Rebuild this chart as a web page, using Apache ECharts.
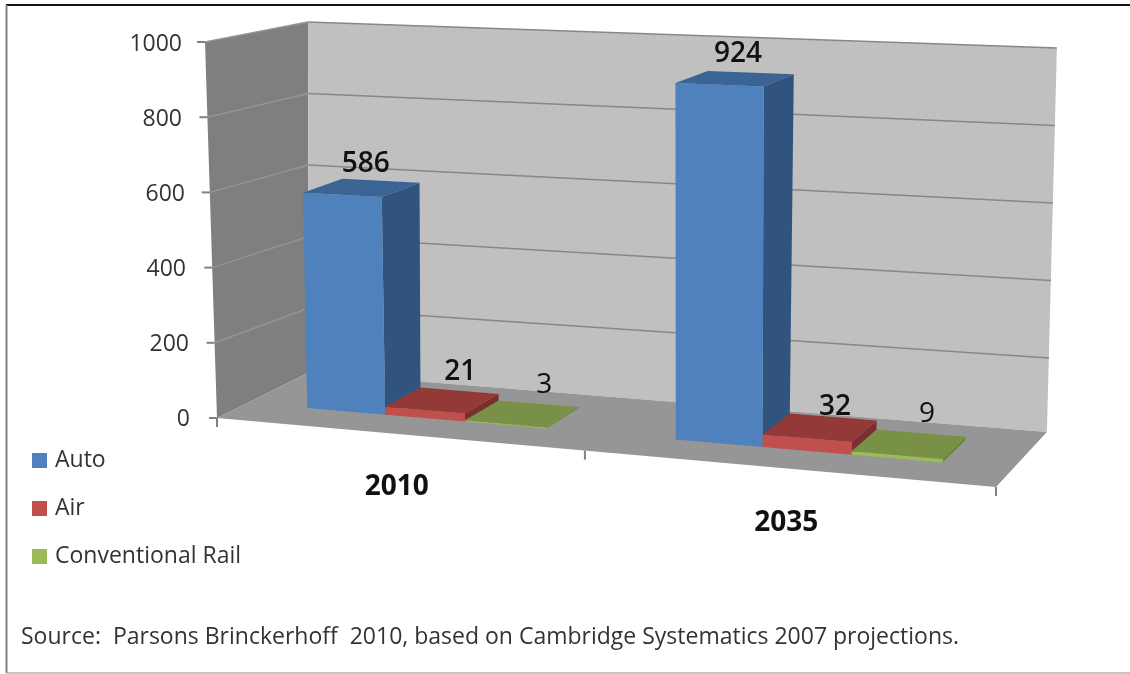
<!DOCTYPE html>
<html>
<head>
<meta charset="utf-8">
<style>html,body{margin:0;padding:0;background:#fff}#c{width:1130px;height:674px}</style>
<script src="https://cdn.jsdelivr.net/npm/echarts@6/dist/echarts.min.js"></script>
</head>
<body>
<div id="c"></div>
<script>
// ---- data ----
const categories = ['2010', '2035'];
const auto = [586, 924];
const air = [21, 32];
const conventionalRail = [3, 9];
const valueTicks = [0, 200, 400, 600, 800, 1000];
const sourceNote = 'Source:  Parsons Brinckerhoff  2010, based on Cambridge Systematics 2007 projections.';

// ---- styles ----
const FONT = '"Open Sans", "Noto Sans", sans-serif';
const faces = {
  Auto: { front: '#4f81bd', side: '#31547e', top: '#3a6494' },
  Air: { front: '#c0504d', side: '#7a2f2e', top: '#933937' },
  'Conventional Rail': { front: '#9bbb59', side: '#6a8a3a', top: '#789146' }
};
const labelNudge = {
  Auto: [[4, -24], [3, -25]],
  Air: [[18, -28], [15, -20]],
  'Conventional Rail': [[22, -29], [18, -30]]
};
const labelWeight = { Auto: 600, Air: 600, 'Conventional Rail': 500 };
const tickLabelInset = { 0: 0, 200: 1, 400: 4, 600: 5, 800: 8, 1000: 8 };
const barFirst = 0.172, barWidth = 0.2205, zFront = 0.32, zBack = 0.735;

// ---- oblique projection of the chart box: u along categories, z into depth, v = value / max ----
const lerp = (a, b, t) => a + (b - a) * t;
function project(u, z, v, frontLeftUp) {
  const w = 1 - 0.105 * u + 0.0629 * z;
  const bx = (674.4 * u + 111.4 * z + 217) / w;
  const by = (17.9 * u - 22.1 * z + 418) / w;
  const ux = lerp(lerp(-12, 3, u), lerp(-1, 10, u), z);
  const fl = frontLeftUp === undefined ? -370 : frontLeftUp;
  const uy = lerp(lerp(fl, -410, u), lerp(-350.5, -384, u), z);
  return [bx + ux * v, by + uy * v];
}
const WALL_UP = -376;
const wall = (u, z, v) => project(u, z, v, WALL_UP);
// the printed wall sits a little below the floor surface, so its rules start lower than the floor's back edge
const wallRule = (u, v) => { const p = wall(u, 1, v); return [p[0], p[1] + (1 - v) * lerp(7, 3.5, u)]; };
const poly = (pts, fill) => ({ type: 'polygon', shape: { points: pts }, style: { fill: fill } });
const seg = (a, b, stroke, lw) => ({ type: 'line', shape: { x1: a[0], y1: a[1], x2: b[0], y2: b[1] }, style: { stroke: stroke, lineWidth: lw } });

function renderFrame(params, api) {
  const cs = params.coordSys;
  const children = [
    poly([wall(0, 0, 0), wall(0, 1, 0), wall(0, 1, 1), wall(0, 0, 1)], '#7f7f7f'),
    poly([wall(0, 1, 0), wall(1, 1, 0), wall(1, 1, 1), wall(0, 1, 1)], '#c0c0c0'),
    poly([wall(0, 0, 0), wall(1, 0, 0), wall(1, 1, 0), wall(0, 1, 0)], '#969696')
  ];
  valueTicks.forEach(function (t) {
    const v = (cs.y + cs.height - api.coord([0, t])[1]) / cs.height;
    const f = wall(0, 0, v), k = wallRule(0, v), r = wallRule(1, v);
    if (t > 0) {
      children.push(seg(f, k, '#949494', 1.5));
      children.push(seg(k, r, '#878787', 1.5));
    }
    children.push(seg([f[0] - 8, f[1]], f, '#808080', 2));
  });
  categories.concat(['']).forEach(function (c, i) {
    const p = wall(i / categories.length, 0, 0);
    children.push(seg(p, [p[0], p[1] + 9], '#808080', 2));
  });
  return { type: 'group', children: children };
}

function barRenderer(name, idx) {
  return function (params, api) {
    const cs = params.coordSys;
    const cat = api.value(0), val = api.value(1);
    const c = api.coord([cat, val]);
    const band = api.size([1, 0])[0] / cs.width;
    const uc = (c[0] - cs.x) / cs.width;
    const v = (cs.y + cs.height - c[1]) / cs.height;
    const u0 = uc - band / 2 + band * (barFirst + idx * barWidth);
    const u1 = u0 + band * barWidth;
    const col = faces[name];
    const nudge = labelNudge[name][cat];
    const anchor = project((u0 + u1) / 2, (zFront + zBack) / 2, v);
    return {
      type: 'group',
      children: [
        poly([project(u1, zFront, 0), project(u1, zBack, 0), project(u1, zBack, v), project(u1, zFront, v)], col.side),
        poly([project(u0, zFront, 0), project(u1, zFront, 0), project(u1, zFront, v), project(u0, zFront, v)], col.front),
        poly([project(u0, zFront, v), project(u1, zFront, v), project(u1, zBack, v), project(u0, zBack, v)], col.top),
        {
          type: 'text',
          z2: 10,
          style: {
            text: String(val),
            x: anchor[0] + nudge[0],
            y: anchor[1] + nudge[1],
            align: 'center',
            verticalAlign: 'middle',
            font: labelWeight[name] + ' 28px ' + FONT,
            fill: '#111'
          }
        }
      ]
    };
  };
}

const makeBars = (name, values, idx) => ({
  type: 'custom',
  name: name,
  coordinateSystem: 'cartesian2d',
  renderItem: barRenderer(name, idx),
  itemStyle: { color: faces[name].front },
  encode: { x: 0, y: 1 },
  data: values.map((val, i) => [i, val]),
  silent: true,
  clip: false,
  z: 3 + idx
});

const tickRich = {};
valueTicks.forEach(function (t) {
  tickRich['t' + t] = { padding: [5, tickLabelInset[t], 0, 0], fontFamily: FONT, fontSize: 23, color: '#333' };
});
const catStyle = { fontFamily: FONT, fontSize: 28, fontWeight: 700, color: '#111', lineHeight: 30 };

const chart = echarts.init(document.getElementById('c'), null, { renderer: 'canvas' });
chart.setOption({
  animation: false,
  backgroundColor: '#fff',
  grid: { left: 217, top: 42, width: 779, height: 375, containLabel: false },
  title: {
    text: sourceNote, left: 16, top: 621,
    textStyle: { fontFamily: FONT, fontSize: 23, fontWeight: 400, color: '#333' }
  },
  legend: {
    orient: 'vertical', left: 27, top: 443,
    data: ['Auto', 'Air', 'Conventional Rail'],
    icon: 'rect', itemWidth: 15, itemHeight: 15, itemGap: 23,
    selectedMode: false,
    textStyle: { fontFamily: FONT, fontSize: 23, color: '#333', lineHeight: 25, padding: [0, 0, 0, 3] }
  },
  xAxis: {
    type: 'category', data: categories,
    axisLine: { show: false }, axisTick: { show: false },
    axisLabel: {
      margin: 55,
      formatter: (s, i) => '{c' + i + '|' + s + '}',
      rich: {
        c0: Object.assign({ padding: [0, 30, 0, 0] }, catStyle),
        c1: Object.assign({ padding: [72, 30, 0, 0] }, catStyle)
      }
    }
  },
  yAxis: {
    type: 'value', min: 0, max: 1000, interval: 200,
    axisLine: { show: false }, axisTick: { show: false }, splitLine: { show: false },
    axisLabel: { margin: 27, formatter: (val) => '{t' + val + '|' + val + '}', rich: tickRich }
  },
  graphic: [
    { type: 'line', shape: { x1: 6, y1: 5, x2: 1130, y2: 5 }, style: { stroke: '#111', lineWidth: 2 } },
    { type: 'line', shape: { x1: 6.5, y1: 5, x2: 6.5, y2: 673 }, style: { stroke: '#7f7f7f', lineWidth: 2 } },
    { type: 'line', shape: { x1: 6, y1: 673, x2: 1130, y2: 673 }, style: { stroke: '#b0b0b0', lineWidth: 1.5 } }
  ],
  series: [
    {
      type: 'custom', name: 'frame', coordinateSystem: 'cartesian2d',
      renderItem: renderFrame, data: [[0, 0]], encode: { x: 0, y: 1 }, silent: true, clip: false, z: 1
    },
    makeBars('Auto', auto, 0),
    makeBars('Air', air, 1),
    makeBars('Conventional Rail', conventionalRail, 2)
  ]
});
</script>
</body>
</html>
